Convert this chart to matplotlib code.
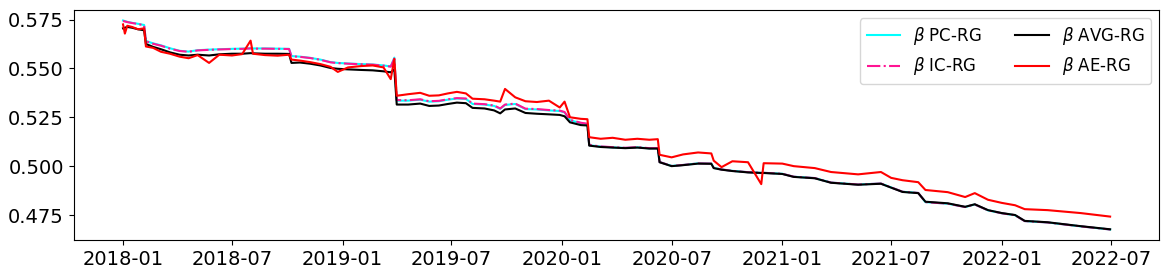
import pandas as pd
import numpy as np
import matplotlib
matplotlib.use('Agg')
import matplotlib.pyplot as plt
import matplotlib.dates as mdates

dates = ['2018-01-01', '2018-01-04', '2018-01-08', '2018-01-16', '2018-01-26', '2018-02-05',
         '2018-02-08', '2018-02-20', '2018-03-05', '2018-03-20', '2018-04-05', '2018-04-20',
         '2018-05-05', '2018-05-24', '2018-06-10', '2018-07-01', '2018-07-18', '2018-08-01',
         '2018-08-05', '2018-08-25', '2018-09-15', '2018-10-04', '2018-10-08', '2018-10-22',
         '2018-11-08', '2018-11-25', '2018-12-12', '2018-12-24', '2019-01-10', '2019-02-01',
         '2019-02-20', '2019-03-10', '2019-03-22', '2019-03-28', '2019-04-01', '2019-04-20',
         '2019-05-10', '2019-05-25', '2019-06-10', '2019-06-25', '2019-07-10', '2019-07-25',
         '2019-08-05', '2019-08-25', '2019-09-10', '2019-09-20', '2019-09-28', '2019-10-15',
         '2019-11-01', '2019-11-20', '2019-12-10', '2019-12-28', '2020-01-05', '2020-01-14',
         '2020-02-01', '2020-02-12', '2020-02-15', '2020-03-05', '2020-03-25', '2020-04-15',
         '2020-05-05', '2020-05-25', '2020-06-08', '2020-06-11', '2020-07-01', '2020-07-20',
         '2020-08-14', '2020-09-05', '2020-09-09', '2020-09-22', '2020-10-10', '2020-11-05',
         '2020-11-27', '2020-12-01', '2021-01-01', '2021-01-20', '2021-02-24', '2021-03-23',
         '2021-05-07', '2021-06-14', '2021-07-01', '2021-07-20', '2021-08-15', '2021-08-27',
         '2021-10-03', '2021-11-01', '2021-11-17', '2021-12-09', '2022-01-01', '2022-01-23',
         '2022-02-08', '2022-03-18', '2022-05-12', '2022-06-30']

beta_pc = [0.5745, 0.5742, 0.5738, 0.5733, 0.5728, 0.5722, 0.5640, 0.5628, 0.5618, 0.5603,
           0.5590, 0.5586, 0.5593, 0.5596, 0.5598, 0.5600, 0.5601, 0.5603, 0.5602, 0.5602,
           0.5601, 0.5600, 0.5563, 0.5560, 0.5554, 0.5545, 0.5532, 0.5528, 0.5525, 0.5522,
           0.5520, 0.5515, 0.5510, 0.5555, 0.5335, 0.5335, 0.5340, 0.5330, 0.5332, 0.5340,
           0.5346, 0.5344, 0.5318, 0.5315, 0.5308, 0.5293, 0.5313, 0.5318, 0.5292, 0.5290,
           0.5285, 0.5282, 0.5275, 0.5235, 0.5220, 0.5215, 0.5107, 0.5100, 0.5096, 0.5093,
           0.5096, 0.5091, 0.5091, 0.5021, 0.5001, 0.5006, 0.5014, 0.5013, 0.4991, 0.4983,
           0.4976, 0.4969, 0.4966, 0.4966, 0.4961, 0.4946, 0.4939, 0.4916, 0.4906, 0.4911,
           0.4891, 0.4869, 0.4863, 0.4816, 0.4808, 0.4791, 0.4804, 0.4774, 0.4759, 0.4749,
           0.4719, 0.4712, 0.4692, 0.4676]

beta_ic = [0.5743, 0.5740, 0.5737, 0.5732, 0.5727, 0.5720, 0.5639, 0.5626, 0.5616, 0.5601,
           0.5589, 0.5585, 0.5592, 0.5595, 0.5597, 0.5599, 0.5600, 0.5602, 0.5601, 0.5601,
           0.5600, 0.5599, 0.5562, 0.5559, 0.5553, 0.5544, 0.5531, 0.5527, 0.5524, 0.5521,
           0.5519, 0.5514, 0.5509, 0.5550, 0.5338, 0.5337, 0.5342, 0.5332, 0.5334, 0.5342,
           0.5348, 0.5346, 0.5320, 0.5317, 0.5310, 0.5295, 0.5315, 0.5320, 0.5294, 0.5292,
           0.5287, 0.5284, 0.5277, 0.5237, 0.5222, 0.5217, 0.5108, 0.5101, 0.5097, 0.5094,
           0.5097, 0.5092, 0.5092, 0.5021, 0.5001, 0.5006, 0.5014, 0.5013, 0.4991, 0.4983,
           0.4976, 0.4969, 0.4966, 0.4966, 0.4961, 0.4946, 0.4939, 0.4916, 0.4906, 0.4911,
           0.4891, 0.4869, 0.4863, 0.4816, 0.4808, 0.4791, 0.4804, 0.4774, 0.4759, 0.4749,
           0.4719, 0.4712, 0.4692, 0.4676]

beta_avg = [0.5705, 0.5708, 0.5712, 0.5708, 0.5700, 0.5695, 0.5625, 0.5610, 0.5598, 0.5582,
            0.5570, 0.5566, 0.5570, 0.5566, 0.5572, 0.5575, 0.5575, 0.5578, 0.5577, 0.5575,
            0.5575, 0.5574, 0.5528, 0.5530, 0.5524, 0.5515, 0.5502, 0.5498, 0.5495, 0.5492,
            0.5490, 0.5485, 0.5480, 0.5495, 0.5315, 0.5315, 0.5320, 0.5308, 0.5310, 0.5318,
            0.5325, 0.5322, 0.5298, 0.5295, 0.5285, 0.5270, 0.5290, 0.5295, 0.5272, 0.5268,
            0.5265, 0.5262, 0.5255, 0.5224, 0.5210, 0.5208, 0.5105, 0.5098, 0.5095, 0.5092,
            0.5095, 0.5090, 0.5090, 0.5020, 0.5000, 0.5005, 0.5013, 0.5012, 0.4990, 0.4982,
            0.4975, 0.4968, 0.4965, 0.4965, 0.4960, 0.4945, 0.4938, 0.4915, 0.4905, 0.4910,
            0.4890, 0.4868, 0.4862, 0.4818, 0.4810, 0.4792, 0.4805, 0.4775, 0.4760, 0.4750,
            0.4720, 0.4713, 0.4693, 0.4677]

beta_ae = [0.5725, 0.5678, 0.5718, 0.5712, 0.5700, 0.5705, 0.5612, 0.5605, 0.5585, 0.5575,
           0.5560, 0.5552, 0.5568, 0.5528, 0.5570, 0.5566, 0.5573, 0.5642, 0.5575, 0.5568,
           0.5565, 0.5570, 0.5545, 0.5540, 0.5532, 0.5522, 0.5508, 0.5482, 0.5505, 0.5512,
           0.5515, 0.5505, 0.5445, 0.5548, 0.5360, 0.5368, 0.5375, 0.5360, 0.5362, 0.5372,
           0.5380, 0.5372, 0.5345, 0.5342, 0.5335, 0.5330, 0.5395, 0.5352, 0.5332, 0.5328,
           0.5335, 0.5300, 0.5330, 0.5250, 0.5242, 0.5240, 0.5148, 0.5140, 0.5145, 0.5135,
           0.5140, 0.5135, 0.5138, 0.5058, 0.5045, 0.5060, 0.5070, 0.5065, 0.5028, 0.4995,
           0.5025, 0.5020, 0.4908, 0.5015, 0.5013, 0.5000, 0.4990, 0.4970, 0.4958, 0.4970,
           0.4940, 0.4928, 0.4918, 0.4878, 0.4867, 0.4842, 0.4862, 0.4828, 0.4812, 0.4800,
           0.4780, 0.4775, 0.4760, 0.4742]

df = pd.DataFrame({'PC': beta_pc, 'IC': beta_ic, 'AVG': beta_avg, 'AE': beta_ae},
                  index=pd.to_datetime(dates))

fig, ax = plt.subplots(figsize=(11.7, 2.79), dpi=100)
ax.plot(df.index, df['PC'], color='cyan', label=r'$\beta$ PC-RG')
ax.plot(df.index, df['IC'], color='deeppink', linestyle='-.', label=r'$\beta$ IC-RG')
ax.plot(df.index, df['AVG'], color='black', label=r'$\beta$ AVG-RG')
ax.plot(df.index, df['AE'], color='red', label=r'$\beta$ AE-RG')

ax.xaxis.set_major_locator(mdates.MonthLocator(bymonth=[1, 7]))
ax.xaxis.set_major_formatter(mdates.DateFormatter('%Y-%m'))
ax.tick_params(labelsize=14)
ax.legend(loc='upper right', ncol=2, fontsize=12)

plt.subplots_adjust(left=0.063, right=0.991, top=0.964, bottom=0.14)
plt.savefig('out.png')
